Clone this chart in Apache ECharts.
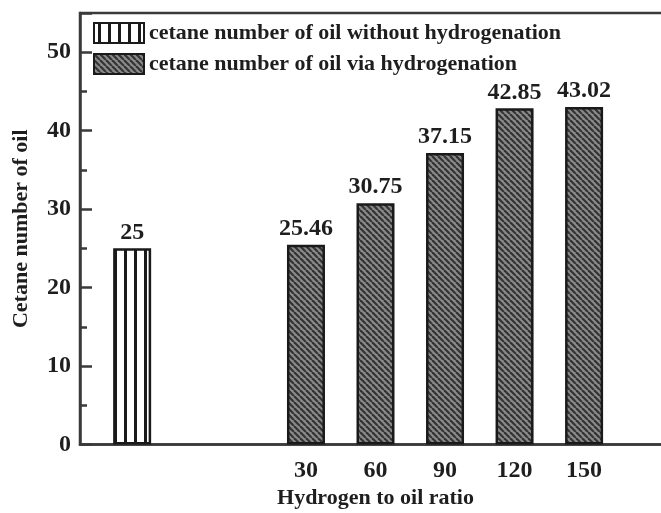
<!DOCTYPE html>
<html>
<head>
<meta charset="utf-8">
<script src="https://cdn.jsdelivr.net/npm/echarts@6/dist/echarts.min.js"></script>
<style>
  html, body { margin: 0; padding: 0; background: #fff; }
  #chart { width: 661px; height: 513px; }
</style>
</head>
<body>
<div id="chart"></div>
<script>
// Cetane number of oil before and after hydrogenation
const baselineLabel = 'cetane number of oil without hydrogenation';
const hydroLabel = 'cetane number of oil via hydrogenation';
const baselineValue = 25;
const ratios = ['30', '60', '90', '120', '150'];
const hydroValues = [25.46, 30.75, 37.15, 42.85, 43.02];

// Slot layout along the x axis: the untreated oil sits apart on the left,
// the hydrogenated samples every other slot further right.
const slotCount = 17;
const baselineSlot = 1;
const firstRatioSlot = 6;
const ratioStep = 2;

const categories = new Array(slotCount).fill('');
const baselineData = new Array(slotCount).fill(null);
const hydroData = new Array(slotCount).fill(null);
baselineData[baselineSlot] = baselineValue;
ratios.forEach((r, i) => {
  const s = firstRatioSlot + i * ratioStep;
  categories[s] = r;
  hydroData[s] = hydroValues[i];
});

// Fill patterns
function stripePattern() {
  const c = document.createElement('canvas');
  c.width = 10; c.height = 10;
  const g = c.getContext('2d');
  g.fillStyle = '#ffffff';
  g.fillRect(0, 0, 10, 10);
  g.fillStyle = '#1a1a1a';
  g.fillRect(4, 0, 3, 10);
  return c;
}
function hatchPattern() {
  const n = 6;
  const c = document.createElement('canvas');
  c.width = n; c.height = n;
  const g = c.getContext('2d');
  g.fillStyle = '#8a8a8a';
  g.fillRect(0, 0, n, n);
  g.strokeStyle = '#333333';
  g.lineWidth = 2.2;
  for (let k = -1; k <= 1; k++) {
    g.beginPath();
    g.moveTo(k * n, 0);
    g.lineTo(k * n + n, n);
    g.stroke();
  }
  return c;
}

const fontFamily = '"Liberation Serif", "Times New Roman", serif';
const textColor = '#1e1e1e';
const axisColor = '#3a3a3a';

const chart = echarts.init(document.getElementById('chart'), null, { renderer: 'canvas' });
chart.setOption({
  animation: false,
  backgroundColor: '#ffffff',
  textStyle: { fontFamily: fontFamily },
  grid: {
    left: 80, top: 13, bottom: 68.5, width: 591,
    outerBoundsMode: 'none',
    show: true, borderColor: axisColor, borderWidth: 2.5,
    containLabel: false
  },
  legend: {
    orient: 'vertical',
    left: 88, top: 17,
    itemWidth: 50, itemHeight: 20, itemGap: 9,
    icon: 'rect',
    textStyle: { fontFamily: fontFamily, fontSize: 22, fontWeight: 'bold', color: textColor },
    data: [baselineLabel, hydroLabel]
  },
  xAxis: {
    type: 'category',
    data: categories,
    boundaryGap: true,
    name: 'Hydrogen to oil ratio',
    nameLocation: 'middle',
    nameGap: 42,
    nameTextStyle: { fontFamily: fontFamily, fontSize: 22, fontWeight: 'bold', color: textColor },
    axisLine: { lineStyle: { color: axisColor, width: 2.5 } },
    axisTick: { show: false },
    axisLabel: { interval: 0, margin: 14, fontFamily: fontFamily, fontSize: 24, fontWeight: 'bold', color: textColor },
    splitLine: { show: false }
  },
  yAxis: {
    type: 'value',
    min: 0, max: 55, interval: 10,
    name: 'Cetane number of oil',
    nameLocation: 'middle',
    nameGap: 48,
    nameTextStyle: { fontFamily: fontFamily, fontSize: 22, fontWeight: 'bold', color: textColor },
    axisLine: { show: true, lineStyle: { color: axisColor, width: 2.5 } },
    axisTick: { show: true, inside: true, length: 12, lineStyle: { color: axisColor, width: 2.5 } },
    minorTick: { show: true, splitNumber: 2, length: 7, lineStyle: { color: axisColor, width: 2.5 } },
    axisLabel: {
      margin: 9, fontFamily: fontFamily, fontSize: 24, fontWeight: 'bold', color: textColor,
      formatter: v => (v % 10 === 0 ? String(v) : '')
    },
    splitLine: { show: false }
  },
  series: [
    {
      name: baselineLabel,
      type: 'bar',
      data: baselineData,
      barWidth: 38,
      barGap: '-100%',
      itemStyle: {
        color: { image: stripePattern(), repeat: 'repeat' },
        borderColor: '#1a1a1a', borderWidth: 2.5
      },
      label: {
        show: true, position: 'top', distance: 4,
        fontFamily: fontFamily, fontSize: 24, fontWeight: 'bold', color: textColor
      }
    },
    {
      name: hydroLabel,
      type: 'bar',
      data: hydroData,
      barWidth: 38,
      barGap: '-100%',
      itemStyle: {
        color: { image: hatchPattern(), repeat: 'repeat' },
        borderColor: '#1a1a1a', borderWidth: 2.5
      },
      label: {
        show: true, position: 'top', distance: 4,
        fontFamily: fontFamily, fontSize: 24, fontWeight: 'bold', color: textColor
      }
    }
  ]
});
</script>
</body>
</html>
